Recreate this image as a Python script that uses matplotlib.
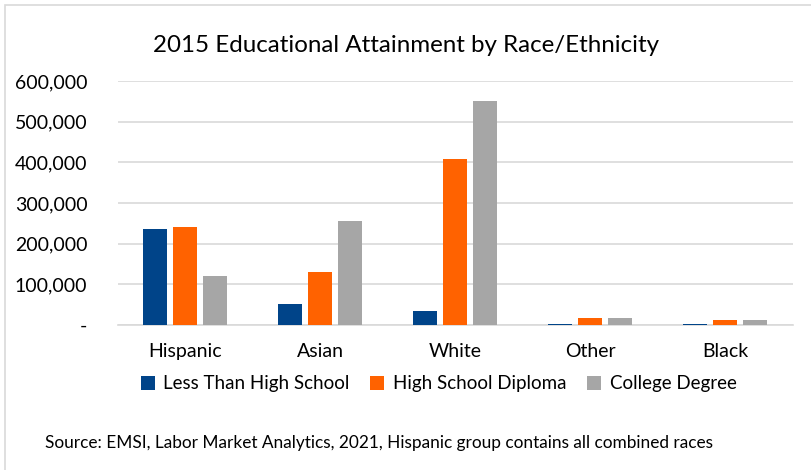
import numpy as np
import matplotlib.pyplot as plt
from matplotlib.patches import Rectangle

plt.rcParams['font.family'] = ['Lato', 'DejaVu Sans']

# data
groups = ['Hispanic', 'Asian', 'White', 'Other', 'Black']
series = ['Less Than High School', 'High School Diploma', 'College Degree']
less_hs = [235000, 52000, 35000, 3000, 1500]
hs_diploma = [242000, 130000, 408000, 18000, 13000]
college = [120000, 256000, 550000, 18000, 13000]
colors = ['#004489', '#FF6200', '#A6A6A6']
yticks = [0, 100000, 200000, 300000, 400000, 500000, 600000]

fig = plt.figure(figsize=(8.12, 4.70), dpi=100)
ax = fig.add_axes([118 / 812, 1 - 325 / 470, 675 / 812, 244 / 470])

x = np.arange(len(groups))
w = 24 / 135
step = 30 / 135
for i, (vals, c) in enumerate(zip([less_hs, hs_diploma, college], colors)):
    ax.bar(x + (i - 1) * step, vals, width=w, color=c, label=series[i], zorder=3)

ax.set_xlim(-0.5, len(groups) - 0.5)
ax.set_ylim(0, 600000)
ax.set_yticks(yticks)
ax.set_yticklabels(['-' if v == 0 else '{:,}'.format(v) for v in yticks])
ax.set_xticks(x)
ax.set_xticklabels(groups)
ax.grid(axis='y', color='#D9D9D9', linewidth=1.2, zorder=0)
for s in ['top', 'right', 'left']:
    ax.spines[s].set_visible(False)
ax.spines['bottom'].set_color('#D9D9D9')
ax.spines['bottom'].set_linewidth(1.2)
ax.tick_params(axis='both', length=0, labelsize=14, colors='#000000')
ax.tick_params(axis='y', pad=22)
ax.tick_params(axis='x', pad=13)

fig.text(0.5, 1 - 45 / 470, '2015 Educational Attainment by Race/Ethnicity',
         ha='center', va='center', fontsize=17.4)

ax.legend(loc='center left', bbox_to_anchor=(124 / 812, 1 - 384 / 470), bbox_transform=fig.transFigure,
          ncol=3, frameon=False, fontsize=13.5, handlelength=0.75, handleheight=0.75,
          handletextpad=0.45, columnspacing=1.1)

fig.text(45 / 812, 1 - 443 / 470,
         'Source: EMSI, Labor Market Analytics, 2021, Hispanic group contains all combined races',
         ha='left', va='center', fontsize=12.4)

fig.patches.append(Rectangle((5 / 812, -0.01), 1, 1 - 5 / 470 + 0.01, transform=fig.transFigure,
                             fill=False, edgecolor='#D9D9D9', linewidth=1.2))

fig.savefig('out.png', dpi=100)
